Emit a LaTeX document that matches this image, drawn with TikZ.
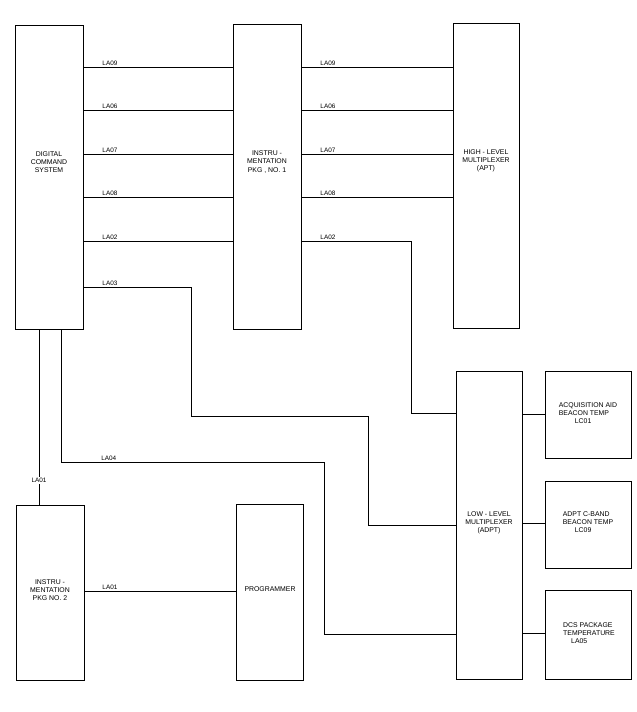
\documentclass[tikz,border=0pt]{standalone}
\usepackage{fontspec}
\setmainfont{Liberation Sans}
\begin{document}
\begin{tikzpicture}[x=1pt,y=-1pt,
  box/.style={draw, line width=1.1pt, rectangle, inner sep=0pt, anchor=north west},
  conn/.style={line width=0.7pt},
  lab/.style={font=\fontsize{6.4}{7}\selectfont, inner sep=1pt, anchor=south west},
  txt/.style={font=\fontsize{6.9}{8.2}\selectfont, align=center, inner sep=0pt}]
\useasboundingbox[fill=white] (0,0) rectangle (637,712);

% boxes
\node[box, minimum width=68pt, minimum height=304pt] (dcs) at (15,25) {};
\node[box, minimum width=68pt, minimum height=305pt] (pkg1) at (233,24) {};
\node[box, minimum width=66pt, minimum height=305pt] (hlm) at (453,23) {};
\node[box, minimum width=66pt, minimum height=308pt] (llm) at (456,371) {};
\node[box, minimum width=86pt, minimum height=87pt] (b1) at (545,371) {};
\node[box, minimum width=86pt, minimum height=87pt] (b2) at (545,481) {};
\node[box, minimum width=86pt, minimum height=89pt] (b3) at (545,590) {};
\node[box, minimum width=68pt, minimum height=175pt] (pkg2) at (16,505) {};
\node[box, minimum width=67pt, minimum height=176pt] (prog) at (236,504) {};

% texts
\node[txt] (dcst) at (49,162) {DIGITAL\\COMMAND\\SYSTEM};
\node[txt] (pkg1t) at (267,162) {INSTRU -\\MENTATION\\PKG , NO. 1};
\node[txt] (hlmt) at (486,161) {HIGH - LEVEL\\MULTIPLEXER\\(APT)};
\node[txt] (llmt) at (489,523) {LOW - LEVEL\\MULTIPLEXER\\(ADPT)};
\node[txt, align=left] (b1t) at (588,413) {ACQUISITION AID\\BEACON TEMP\\\hspace*{16pt}LC01};
\node[txt, align=left] (b2t) at (588,522) {ADPT C-BAND\\BEACON TEMP\\\hspace*{12pt}LC09};
\node[txt, align=left] (b3t) at (589,633) {DCS PACKAGE\\TEMPERATURE\\\hspace*{8pt}LA05};
\node[txt] (pkg2t) at (50,590) {INSTRU -\\MENTATION\\PKG NO. 2};
\node[txt] (progt) at (270,589) {PROGRAMMER};

% levels
\coordinate (r1) at (0,67);
\coordinate (r2) at (0,110);
\coordinate (r3) at (0,154);
\coordinate (r4) at (0,197);
\coordinate (r5) at (0,241);
\coordinate (r6) at (0,287);

% DCS -> PKG1
\draw[conn] (dcs.east |- r1) -- node[lab, pos=0, xshift=17pt] {LA09} (pkg1.west |- r1);
\draw[conn] (dcs.east |- r2) -- node[lab, pos=0, xshift=17pt] {LA06} (pkg1.west |- r2);
\draw[conn] (dcs.east |- r3) -- node[lab, pos=0, xshift=17pt] {LA07} (pkg1.west |- r3);
\draw[conn] (dcs.east |- r4) -- node[lab, pos=0, xshift=17pt] {LA08} (pkg1.west |- r4);
\draw[conn] (dcs.east |- r5) -- node[lab, pos=0, xshift=17pt] {LA02} (pkg1.west |- r5);

% PKG1 -> HLM
\draw[conn] (pkg1.east |- r1) -- node[lab, pos=0, xshift=17pt] {LA09} (hlm.west |- r1);
\draw[conn] (pkg1.east |- r2) -- node[lab, pos=0, xshift=17pt] {LA06} (hlm.west |- r2);
\draw[conn] (pkg1.east |- r3) -- node[lab, pos=0, xshift=17pt] {LA07} (hlm.west |- r3);
\draw[conn] (pkg1.east |- r4) -- node[lab, pos=0, xshift=17pt] {LA08} (hlm.west |- r4);
\draw[conn] (pkg1.east |- r5) -- node[lab, pos=0, xshift=17pt] {LA02} (411,241) -- (411,413) -- (llm.west |- 0,413);

% LA03
\draw[conn] (dcs.east |- r6) -- node[lab, pos=0, xshift=17pt] {LA03} (191,287) -- (191,416) -- (368,416) -- (368,525) -- (llm.west |- 0,525);

% LA04
\coordinate (c4) at (61,0);
\draw[conn] (dcs.south -| c4) -- (61,462) -- node[lab, pos=0, xshift=39pt] {LA04} (324,462) -- (324,634) -- (llm.west |- 0,634);

% LA01 vertical
\coordinate (c1) at (39,0);
\draw[conn] (dcs.south -| c1) -- node[lab, anchor=center, fill=white, inner sep=1.5pt, pos=0.86] {LA01} (pkg2.north -| c1);

% LA01 horizontal
\draw[conn] (pkg2.east |- 0,591) -- node[lab, pos=0, xshift=16pt] {LA01} (prog.west |- 0,591);

% LLM -> sensor boxes
\draw[conn] (llm.east |- 0,414) -- (b1.west |- 0,414);
\draw[conn] (llm.east |- 0,523) -- (b2.west |- 0,523);
\draw[conn] (llm.east |- 0,633) -- (b3.west |- 0,633);
\end{tikzpicture}
\end{document}
